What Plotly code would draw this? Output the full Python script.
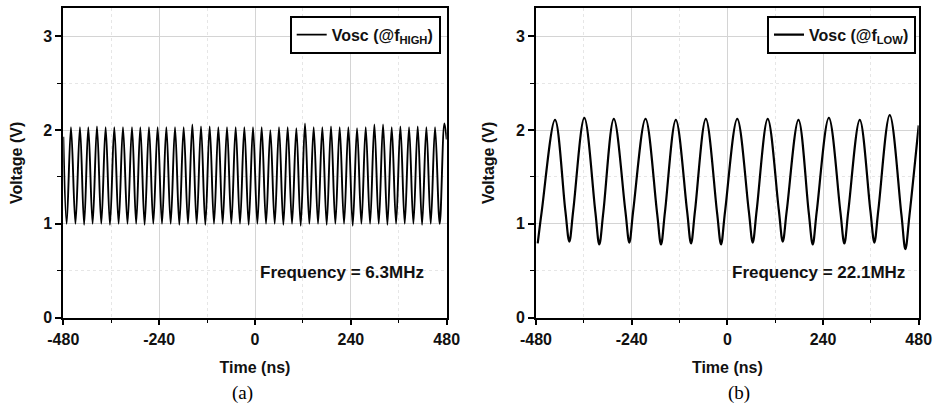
import plotly.graph_objects as go

# ---------------- data ----------------
# (a) high-frequency oscillation: alternating extrema (ns, V)
time_high = [
    -480.0, -471.6, -460.8, -449.6, -438.3, -427.9, -417.4, -406.6, -395.7, -384.9,
    -374.0, -363.2, -352.3, -341.5, -330.6, -319.3, -308.0, -297.6, -287.2, -276.4,
    -265.5, -254.7, -243.8, -232.9, -222.0, -211.2, -200.3, -189.5, -178.6, -167.8,
    -156.9, -146.1, -135.2, -124.4, -113.5, -102.7, -91.8, -81.0, -70.1, -59.3,
    -48.4, -37.6, -26.7, -15.9, -5.0, 5.9, 16.7, 27.6, 38.4, 49.3,
    60.1, 71.0, 81.8, 92.7, 103.5, 114.4, 125.2, 136.1, 146.9, 157.8,
    168.6, 179.5, 190.3, 201.2, 212.0, 222.9, 233.8, 244.7, 255.5, 266.4,
    277.2, 288.1, 298.9, 309.8, 320.6, 331.5, 342.3, 353.2, 364.0, 374.9,
    385.7, 396.6, 407.4, 418.3, 429.1, 440.0, 450.8, 462.5, 474.2, 480.0,
]
volt_high = [
    1.93, 1.00, 2.03, 1.00, 2.03, 0.99, 2.03, 1.00, 2.04, 1.00,
    2.03, 0.99, 2.03, 1.00, 2.03, 1.00, 2.03, 1.00, 2.03, 0.99,
    2.03, 1.00, 2.03, 1.00, 2.03, 1.00, 2.03, 0.99, 2.03, 1.00,
    2.06, 1.00, 2.04, 0.99, 2.04, 1.00, 2.03, 1.00, 2.03, 1.00,
    2.03, 1.00, 2.03, 0.99, 2.03, 1.00, 2.03, 1.00, 2.00, 1.00,
    2.03, 0.99, 2.03, 1.00, 2.02, 0.98, 2.07, 1.00, 2.03, 1.00,
    2.03, 0.99, 2.04, 1.00, 2.03, 1.00, 2.03, 0.98, 2.02, 1.00,
    2.03, 1.00, 2.06, 1.00, 2.06, 0.99, 2.03, 1.00, 2.04, 1.00,
    2.03, 1.00, 2.04, 0.99, 2.03, 1.00, 2.03, 1.00, 2.07, 1.90,
]

# (b) low-frequency oscillation: troughs, trough flanks and peaks (ns, V)
time_low = [
    -475.7, -465.7, -432.3, -406.4, -396.4, -386.4, -358.8, -331.2, -321.2, -311.2,
    -284.8, -255.9, -245.9, -235.9, -205.3, -176.4, -166.4, -156.4, -129.2, -101.1,
    -91.1, -81.1, -54.0, -25.8, -15.8, -5.8, 24.8, 53.7, 63.7, 73.7,
    101.3, 129.0, 139.0, 149.0, 178.4, 204.2, 214.2, 224.2, 254.6, 283.5,
    293.5, 303.5, 332.2, 358.8, 368.8, 378.8, 407.4, 436.6, 446.6, 456.6,
    480.0,
]
volt_low = [
    0.79, 1.13, 2.11, 1.14, 0.81, 1.15, 2.13, 1.13, 0.78, 1.12,
    2.12, 1.14, 0.80, 1.15, 2.12, 1.12, 0.78, 1.13, 2.11, 1.14,
    0.79, 1.14, 2.12, 1.12, 0.78, 1.13, 2.12, 1.14, 0.80, 1.15,
    2.12, 1.15, 0.81, 1.14, 2.11, 1.12, 0.78, 1.13, 2.13, 1.13,
    0.79, 1.14, 2.11, 1.14, 0.80, 1.15, 2.16, 1.10, 0.73, 1.08,
    2.05,
]

x_ticks = [-480, -240, 0, 240, 480]
x_tick_labels = ["-480", "-240", "0", "240", "480"]
y_ticks = [0, 1, 2, 3]
y_tick_labels = ["0", "1", "2", "3"]
legend_names = ["<b>Vosc (@f<sub>HIGH</sub>)</b>", "<b>Vosc (@f<sub>LOW</sub>)</b>"]
freq_labels = ["<b>Frequency = 6.3MHz</b>", "<b>Frequency = 22.1MHz</b>"]
panel_labels = ["(a)", "(b)"]

# ---------------- figure ----------------
W, H = 933, 407
FONT = "Liberation Sans, Arial, sans-serif"

fig = go.Figure()
fig.add_trace(go.Scatter(x=time_high, y=volt_high, mode="lines", name=legend_names[0],
                         line=dict(color="black", width=1.9, shape="spline", smoothing=1.0),
                         xaxis="x", yaxis="y", legend="legend"))
fig.add_trace(go.Scatter(x=time_low, y=volt_low, mode="lines", name=legend_names[1],
                         line=dict(color="black", width=2.2, shape="spline", smoothing=1.0),
                         xaxis="x2", yaxis="y2", legend="legend2"))

def px_x(p):
    return p / W

def px_y(p):
    return 1 - p / H

y_dom = [px_y(317.5), px_y(8.3)]
x_dom1 = [px_x(63.3), px_x(446.7)]
x_dom2 = [px_x(536.0), px_x(918.7)]

def xaxis(domain, anchor):
    return dict(
        domain=domain, anchor=anchor, range=[-480, 480], automargin=False,
        tickmode="array", tickvals=x_ticks, ticktext=x_tick_labels,
        ticks="outside", ticklen=6, tickwidth=1.5, tickcolor="black",
        showline=True, linecolor="black", linewidth=1.8, mirror=True,
        showgrid=True, gridcolor="#d4d4d4", gridwidth=1, zeroline=False,
        minor=dict(dtick=120, tick0=-480, ticks="outside", ticklen=4, tickwidth=1.2,
                   tickcolor="black", showgrid=True, gridcolor="#e6e6e6", griddash="dot"),
        tickfont=dict(family=FONT, size=16, color="#111", weight="bold"),
        title=dict(text="<b>Time (ns)</b>", font=dict(family=FONT, size=16, color="#111"),
                   standoff=15),
        fixedrange=True,
    )

def yaxis(domain, anchor):
    return dict(
        domain=domain, anchor=anchor, range=[0, 3.3], automargin=False,
        tickmode="array", tickvals=y_ticks, ticktext=y_tick_labels,
        ticks="outside", ticklen=6, tickwidth=1.5, tickcolor="black",
        showline=True, linecolor="black", linewidth=1.8, mirror=True,
        showgrid=True, gridcolor="#d4d4d4", gridwidth=1, zeroline=False,
        minor=dict(dtick=0.5, tick0=0, ticks="outside", ticklen=4, tickwidth=1.2,
                   tickcolor="black", showgrid=True, gridcolor="#e6e6e6", griddash="dot"),
        tickfont=dict(family=FONT, size=16, color="#111", weight="bold"),
        title=dict(text="<b>Voltage (V)</b>", font=dict(family=FONT, size=16, color="#111"),
                   standoff=17),
        fixedrange=True,
    )

def legend(xr):
    return dict(
        x=xr, y=px_y(15.7), xanchor="right", yanchor="top",
        bgcolor="white", bordercolor="black", borderwidth=2,
        font=dict(family=FONT, size=16, color="#111"),
        tracegroupgap=0, itemwidth=30,
    )

fig.update_layout(
    width=W, height=H,
    margin=dict(l=0, r=0, t=0, b=0, autoexpand=False),
    paper_bgcolor="white", plot_bgcolor="white",
    xaxis=xaxis(x_dom1, "y"), yaxis=yaxis(y_dom, "x"),
    xaxis2=xaxis(x_dom2, "y2"), yaxis2=yaxis(y_dom, "x2"),
    legend=legend(px_x(440.7)), legend2=legend(px_x(916.0)),
    showlegend=True,
)

# frequency annotations
for xc, txt in ((342, freq_labels[0]), (818.6, freq_labels[1])):
    fig.add_annotation(x=px_x(xc), y=px_y(272), xref="paper", yref="paper",
                       xanchor="center", yanchor="middle",
                       text=txt, showarrow=False,
                       font=dict(family=FONT, size=17, color="#111"))
# panel labels
for xc, txt in ((242, panel_labels[0]), (739, panel_labels[1])):
    fig.add_annotation(x=px_x(xc), y=px_y(393), xref="paper", yref="paper",
                       xanchor="center", yanchor="middle",
                       text=txt, showarrow=False,
                       font=dict(family="Liberation Serif, Times New Roman, serif", size=19,
                                 color="black"))

fig.write_html("out.html", config={"displayModeBar": False},
               post_script="document.body.style.margin='0';")
